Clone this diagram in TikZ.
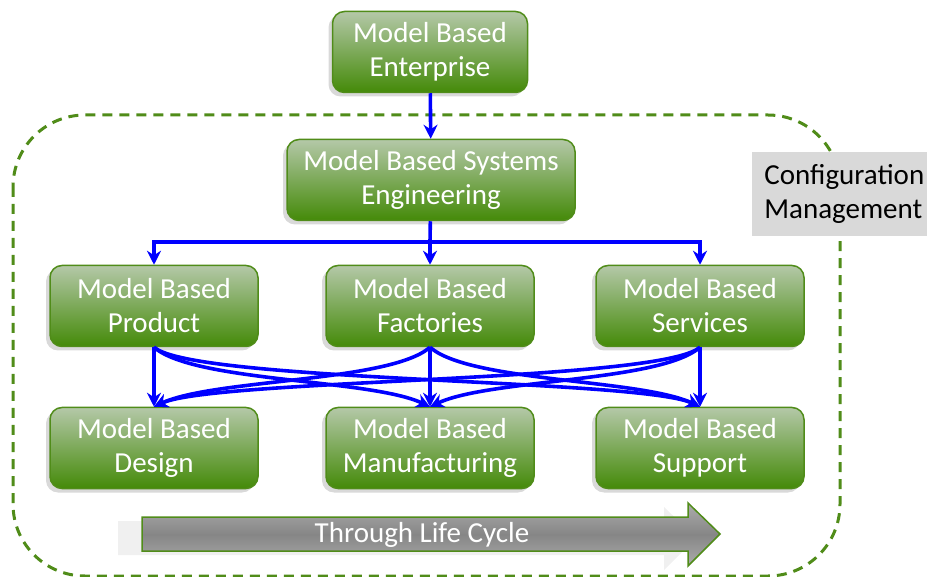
\documentclass[tikz,border=0pt]{standalone}
\usepackage{fontspec}
\setmainfont{Carlito}
\usetikzlibrary{arrows.meta,shadows}

\definecolor{mbline}{RGB}{80,140,25}
\definecolor{mbtop}{RGB}{180,200,168}
\definecolor{mbbottom}{RGB}{68,138,8}
\definecolor{cmgray}{RGB}{217,217,217}

\tikzset{
  mbbox/.style={draw=mbline, line width=0.75pt, rounded corners=6pt,
    top color=mbtop, bottom color=mbbottom, text=white, align=center,
    minimum width=104pt, minimum height=40.5pt,
    font=\fontsize{14.5pt}{17pt}\selectfont,
    drop shadow={shadow xshift=-2pt, shadow yshift=-2pt, opacity=0.3}},
  flow/.style={draw=blue, line width=1.8pt, -{Stealth[length=7pt,width=7pt]}},
  cmline/.style={draw=mbline, line width=1.5pt, dash pattern=on 5pt off 3.5pt},
  cmbox/.style={fill=cmgray, align=left, inner sep=6pt, minimum height=41pt,
    text width=82pt, font=\fontsize{14.5pt}{17pt}\selectfont},
  lifearrow/.style={draw=mbline, line width=0.75pt, top color=gray!65,
    bottom color=gray!65, middle color=gray!95,
    drop shadow={shadow xshift=-12pt, shadow yshift=-2pt, opacity=0.12}},
}

\begin{document}
\begin{tikzpicture}[x=0.5pt, y=-0.5pt]
  \useasboundingbox (0,0) rectangle (927,577);

  % configuration management frame
  \draw[cmline, rounded corners=36pt] (13,115) rectangle (840,576);
  \node[cmbox, anchor=west] (cm) at (752,194) {Configuration\\Management};

  % boxes
  \node[mbbox, minimum width=97.5pt] (mbe) at (430,52) {Model Based\\Enterprise};
  \node[mbbox, minimum width=144pt] (mbse) at (431,180) {Model Based Systems\\Engineering};

  \node[mbbox] (prod) at (154,306) {Model Based\\Product};
  \node[mbbox] (fact) at (430,306) {Model Based\\Factories};
  \node[mbbox] (serv) at (700,306) {Model Based\\Services};

  \node[mbbox] (design) at (154,448) {Model Based\\Design};
  \node[mbbox] (manuf) at (430,448) {Model Based\\Manufacturing};
  \node[mbbox] (supp) at (700,448) {Model Based\\Support};

  % top of the tree
  \draw[flow] (mbe) -- (mbse);
  \coordinate (split) at (430,242);
  \draw[flow, -] (mbse) -- (split);
  \draw[flow] (split) -| (prod);
  \draw[flow] (split) -- (fact);
  \draw[flow] (split) -| (serv);

  % every upper box feeds every lower box
  \draw[flow] (prod.south) -- (design.north);
  \draw[flow] (prod.south) .. controls +(40,35) and +(-60,-28) .. (manuf.north);
  \draw[flow] (prod.south) .. controls +(40,35) and +(-60,-28) .. (supp.north);
  \draw[flow] (fact.south) .. controls +(-40,35) and +(60,-28) .. (design.north);
  \draw[flow] (fact.south) -- (manuf.north);
  \draw[flow] (fact.south) .. controls +(40,35) and +(-60,-28) .. (supp.north);
  \draw[flow] (serv.south) .. controls +(-40,35) and +(60,-28) .. (design.north);
  \draw[flow] (serv.south) .. controls +(-40,35) and +(60,-28) .. (manuf.north);
  \draw[flow] (serv.south) -- (supp.north);

  % life cycle arrow
  \draw[lifearrow] (142,517) -- (688,517) -- (688,503) -- (720,534)
    -- (688,566) -- (688,551) -- (142,551) -- cycle;
  \node[text=white, font=\fontsize{14.5pt}{17pt}\selectfont] (life) at (422,535) {Through Life Cycle};
\end{tikzpicture}
\end{document}
